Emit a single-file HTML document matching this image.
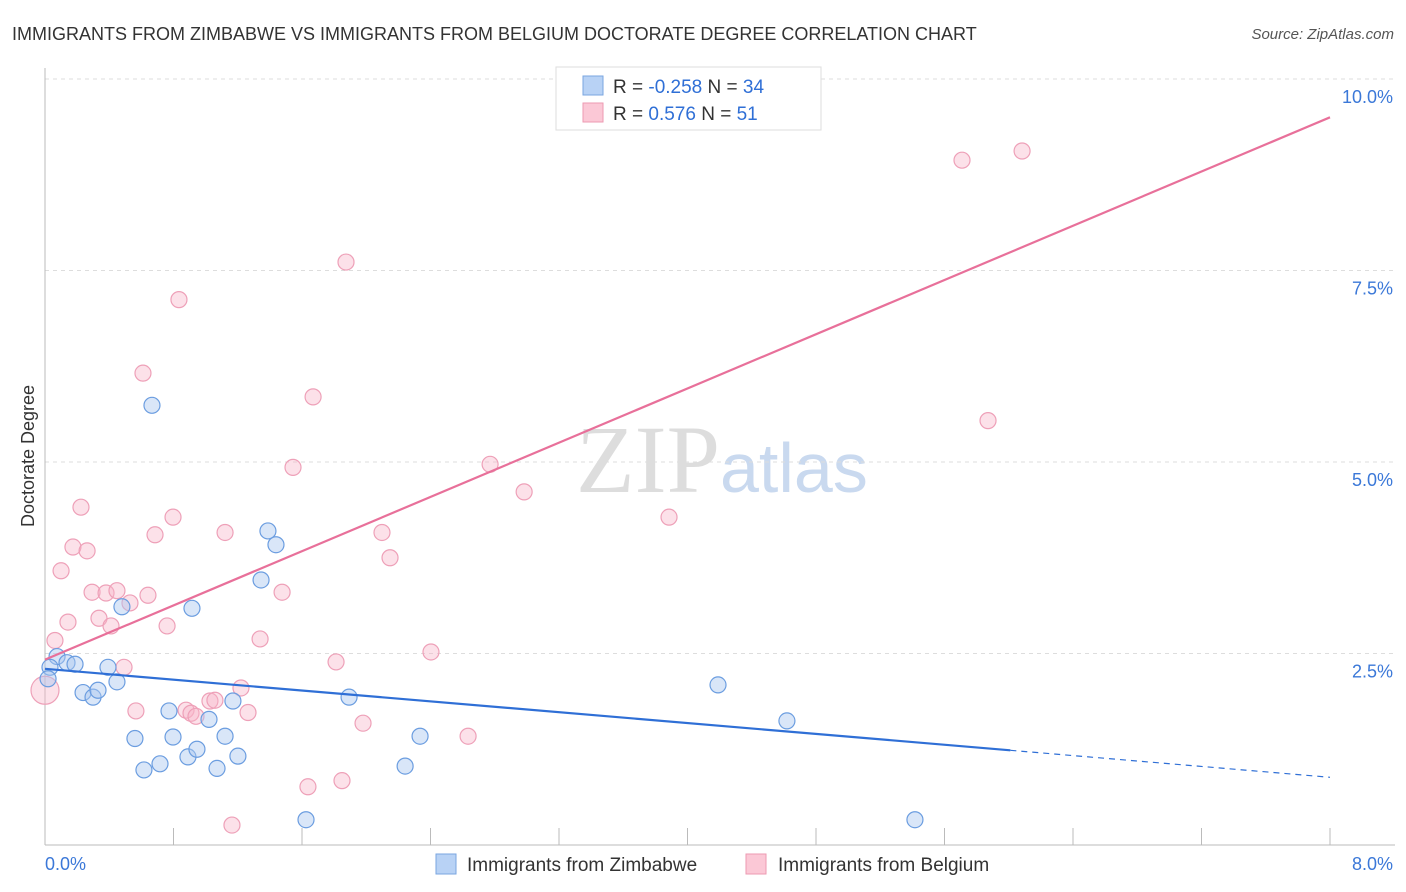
<!DOCTYPE html>
<html><head><meta charset="utf-8">
<style>
body{margin:0;background:#fff;font-family:"Liberation Sans",sans-serif;}
#wrap{position:relative;width:1406px;height:892px;overflow:hidden;}
</style></head>
<body>
<div id="wrap">
<svg id="svg" width="1406" height="892" xmlns="http://www.w3.org/2000/svg">
<text x="12" y="40" font-size="18" fill="#333">IMMIGRANTS FROM ZIMBABWE VS IMMIGRANTS FROM BELGIUM DOCTORATE DEGREE CORRELATION CHART</text>
<text x="1394" y="39" font-size="15" fill="#555" font-style="italic" text-anchor="end">Source: ZipAtlas.com</text>
<text x="720" y="492" font-size="96" fill="#ddd" text-anchor="end" font-family="Liberation Serif,serif">ZIP</text>
<text x="720" y="492" font-size="70" fill="#c9d9ef">atlas</text>
<text x="34" y="456" font-size="18" fill="#333" text-anchor="middle" transform="rotate(-90 34 456)">Doctorate Degree</text>
<g id="grid"></g><g id="marks"></g>
<g>
<rect x="556" y="67" width="265" height="63" fill="#fff" stroke="#ddd"/>
<rect x="583" y="76" width="20" height="19" fill="#b8d2f5" stroke="#7aa6e0"/>
<rect x="583" y="103" width="20" height="19" fill="#fbc8d6" stroke="#ec9ab2"/>
<text x="613" y="93" font-size="19" fill="#333">R = <tspan fill="#2f6fd6">-0.258</tspan>   N = <tspan fill="#2f6fd6">34</tspan></text>
<text x="613" y="120" font-size="19" fill="#333">R =  <tspan fill="#2f6fd6"> 0.576</tspan>   N =  <tspan fill="#2f6fd6">51</tspan></text>
</g>
<g>
<rect x="436" y="854" width="20" height="20" fill="#b8d2f5" stroke="#7aa6e0"/>
<text x="467" y="871" font-size="19" fill="#333">Immigrants from Zimbabwe</text>
<rect x="746" y="854" width="20" height="20" fill="#fbc8d6" stroke="#ec9ab2"/>
<text x="778" y="871" font-size="19" fill="#333">Immigrants from Belgium</text>
</g>
</svg></div>
<script>
const yTicks=[2.5,5,7.5,10];
const yTickLabels=["2.5%","5.0%","7.5%","10.0%"];
const xTickCount=[0,0.8,1.6,2.4,3.2,4.0,4.8,5.6,6.4,7.2,8.0];
const blueX=[0.075,0.031,0.019,0.137,0.187,0.237,0.299,0.330,0.392,0.448,0.479,0.666,0.560,0.616,0.716,0.772,0.797,0.890,0.946,0.915,1.021,1.071,1.121,1.170,1.201,1.345,1.388,1.438,1.625,1.893,2.242,2.335,4.190,4.619,5.416];
const blueY=[2.46,2.32,2.17,2.38,2.36,1.99,1.93,2.02,2.32,2.13,3.11,5.74,1.39,0.98,1.06,1.75,1.41,1.15,1.25,3.09,1.64,1.00,1.42,1.88,1.16,3.46,4.10,3.92,0.33,1.93,1.03,1.42,2.09,1.62,0.33];
const pinkX=[0,0.062,0.100,0.143,0.174,0.224,0.262,0.293,0.336,0.380,0.411,0.448,0.492,0.529,0.566,0.610,0.641,0.685,0.760,0.797,0.834,0.878,0.909,0.940,1.027,1.058,1.121,1.164,1.220,1.264,1.339,1.476,1.544,1.637,1.669,1.812,1.849,1.874,1.980,2.098,2.148,2.403,2.634,2.771,2.983,3.250,3.885,4.408,5.709,5.871,6.083];
const pinkY=[2.02,2.67,3.58,2.91,3.89,4.41,3.84,3.30,2.96,3.29,2.86,3.32,2.32,3.16,1.75,6.16,3.26,4.05,2.86,4.28,7.12,1.76,1.72,1.68,1.88,1.89,4.08,0.26,2.05,1.73,2.69,3.30,4.93,0.76,5.85,2.39,0.84,7.61,1.59,4.08,3.75,2.52,1.42,4.97,4.61,9.97,4.28,9.95,8.94,5.54,9.06];
const blueSize=[9,9,9,9,9,9,9,9,9,9,9,9,9,9,9,9,9,9,9,9,9,9,9,9,9,9,9,9,9,9,9,9,9,9,9];
const blueLine=[2.30,-0.177]; // intercept, slope
const pinkLine=[2.42,0.885];
const X=v=>45+v/8*1285, Y=v=>845-v/10*766;
const NS="http://www.w3.org/2000/svg";
function mk(tag,attrs,parent){const e=document.createElementNS(NS,tag);for(const k in attrs)e.setAttribute(k,attrs[k]);parent.appendChild(e);return e;}
const grid=document.getElementById('grid'), marks=document.getElementById('marks');
yTicks.forEach((t,i)=>{
  const l=mk('line',{x1:45,x2:1395,y1:Y(t),y2:Y(t),stroke:'#ddd','stroke-dasharray':'4,4'},grid);
  
  
  const tx=mk('text',{x:1393,y:Y(t)+24,'font-size':18,fill:'#3b78d8','text-anchor':'end'},grid);
  tx.textContent=yTickLabels[i];
  
  
});
const ax=mk('line',{x1:45,x2:1395,y1:845,y2:845,stroke:'#bbb'},grid);


const ay=mk('line',{x1:45,x2:45,y1:68,y2:845,stroke:'#bbb'},grid);


xTickCount.forEach(t=>{const l=mk('line',{x1:X(t),x2:X(t),y1:828,y2:845,stroke:'#bbb'},grid);
  
  });
const xl0=mk('text',{x:45,y:870,'font-size':18,fill:'#3b78d8'},grid);xl0.textContent='0.0%';


const xl1=mk('text',{x:1393,y:870,'font-size':18,fill:'#3b78d8','text-anchor':'end'},grid);xl1.textContent='8.0%';


pinkX.forEach((v,i)=>{const c=mk('circle',{cx:X(v),cy:Y(pinkY[i]),r:i==0?14:8,fill:'rgba(248,180,200,0.4)',stroke:'#eea0b8','stroke-width':1.2},marks);
  
  });
blueX.forEach((v,i)=>{const c=mk('circle',{cx:X(v),cy:Y(blueY[i]),r:blueSize[i]-1,fill:'rgba(170,200,240,0.45)',stroke:'#6b9de0','stroke-width':1.2},marks);
  
  });
const bl=(x)=>blueLine[0]+blueLine[1]*x, pl=(x)=>pinkLine[0]+pinkLine[1]*x;
const t1=mk('line',{x1:X(0),y1:Y(bl(0)),x2:X(6.01),y2:Y(bl(6.01)),stroke:'#2f6fd6','stroke-width':2.2},marks);


const t2=mk('line',{x1:X(6.01),y1:Y(bl(6.01)),x2:X(8),y2:Y(bl(8)),stroke:'#2f6fd6','stroke-width':1.2,'stroke-dasharray':'6,5'},marks);


const t3=mk('line',{x1:X(0),y1:Y(pl(0)),x2:X(8),y2:Y(pl(8)),stroke:'#e8709a','stroke-width':2.2},marks);


</script>
</body></html>
